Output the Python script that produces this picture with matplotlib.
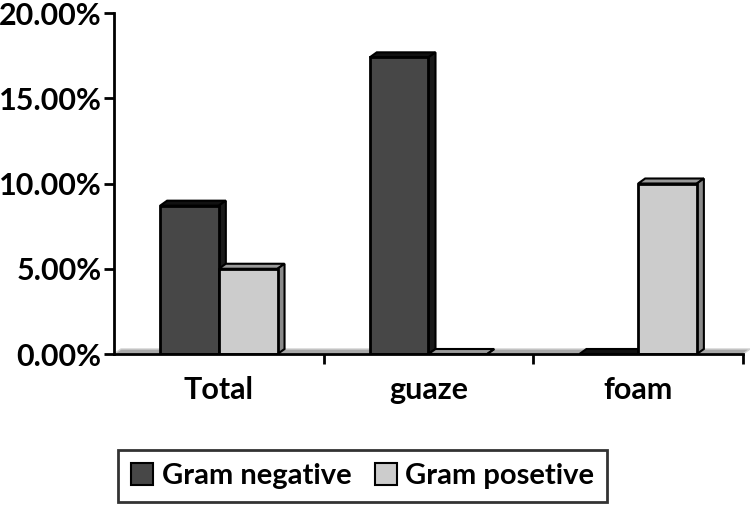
import numpy as np
import matplotlib.pyplot as plt
import matplotlib.patches as patches
from matplotlib.ticker import FuncFormatter

categories = ["Total", "guaze", "foam"]
gram_negative = [8.7, 17.4, 0.0]
gram_positive = [5.0, 0.0, 10.0]
series_names = ["Gram negative", "Gram posetive"]

plt.rcParams['font.family'] = ['Lato', 'DejaVu Sans']
plt.rcParams['font.weight'] = 'bold'

fig = plt.figure(figsize=(7.5, 5.11), dpi=100)
ax = fig.add_axes([114 / 750, 1 - 354 / 511, (743 - 114) / 750, (354 - 13) / 511])

x = np.arange(len(categories))
width = 0.28
ax.set_xlim(-0.5, len(categories) - 0.5)
ax.set_ylim(0, 20)

# depth of the fake 3d look, in pixels -> data units
bbox = ax.get_window_extent()
dx = 7 / bbox.width * (len(categories))
dy = 5 / bbox.height * 20

front = {"neg": "#474747", "pos": "#cccccc"}
top = {"neg": "#111111", "pos": "#9a9a9a"}
side = {"neg": "#1a1a1a", "pos": "#8a8a8a"}

# floor
floor = patches.Polygon([(-0.5, 0), (2.5, 0), (2.5 + dx, dy), (-0.5 + dx, dy)],
                        closed=True, facecolor="#a8a8a8", edgecolor="#d0d0d0",
                        linewidth=1, zorder=1, clip_on=False)
ax.add_patch(floor)

bars_neg = ax.bar(x - width / 2, gram_negative, width, color=front["neg"],
                  edgecolor="black", linewidth=2, zorder=4, label=series_names[0])
bars_pos = ax.bar(x + width / 2, gram_positive, width, color=front["pos"],
                  edgecolor="black", linewidth=2, zorder=4, label=series_names[1])

for bars, key in [(bars_neg, "neg"), (bars_pos, "pos")]:
    for b in bars:
        x0 = b.get_x()
        x1 = x0 + b.get_width()
        h = b.get_height()
        ax.add_patch(patches.Polygon([(x0, h), (x1, h), (x1 + dx, h + dy), (x0 + dx, h + dy)],
                                     closed=True, facecolor=top[key], edgecolor="black",
                                     linewidth=1.5, zorder=2, clip_on=False))
        ax.add_patch(patches.Polygon([(x1, 0), (x1, h), (x1 + dx, h + dy), (x1 + dx, dy)],
                                     closed=True, facecolor=side[key], edgecolor="black",
                                     linewidth=1.5, zorder=2, clip_on=False))

for s in ["top", "right"]:
    ax.spines[s].set_visible(False)
ax.spines["left"].set_linewidth(2)
ax.spines["bottom"].set_linewidth(2)
ax.spines["bottom"].set_zorder(5)

ax.set_yticks([0, 5, 10, 15, 20])
ax.yaxis.set_major_formatter(FuncFormatter(lambda v, p: "%.2f%%" % v))
ax.tick_params(axis="y", direction="out", length=7, width=2, labelsize=22, pad=2)

ax.set_xticks(x)
ax.set_xticklabels(categories)
ax.set_xticks([0.5, 1.5, 2.5], minor=True)
ax.tick_params(axis="x", which="major", length=0, labelsize=22, pad=16)
ax.tick_params(axis="x", which="minor", direction="out", length=7, width=2)

leg = fig.legend(handles=[bars_neg, bars_pos], labels=series_names,
                 loc="upper left", bbox_to_anchor=(118 / 750, 1 - 450 / 511),
                 ncol=2, fontsize=21, frameon=True, fancybox=False,
                 borderpad=0.45, handlelength=0.75, handleheight=0.75,
                 handletextpad=0.3, columnspacing=0.8, borderaxespad=0)
leg.get_frame().set_edgecolor("black")
leg.get_frame().set_linewidth(2)
for h in leg.legend_handles:
    h.set_linewidth(1.5)

fig.savefig("out.png", dpi=100)
